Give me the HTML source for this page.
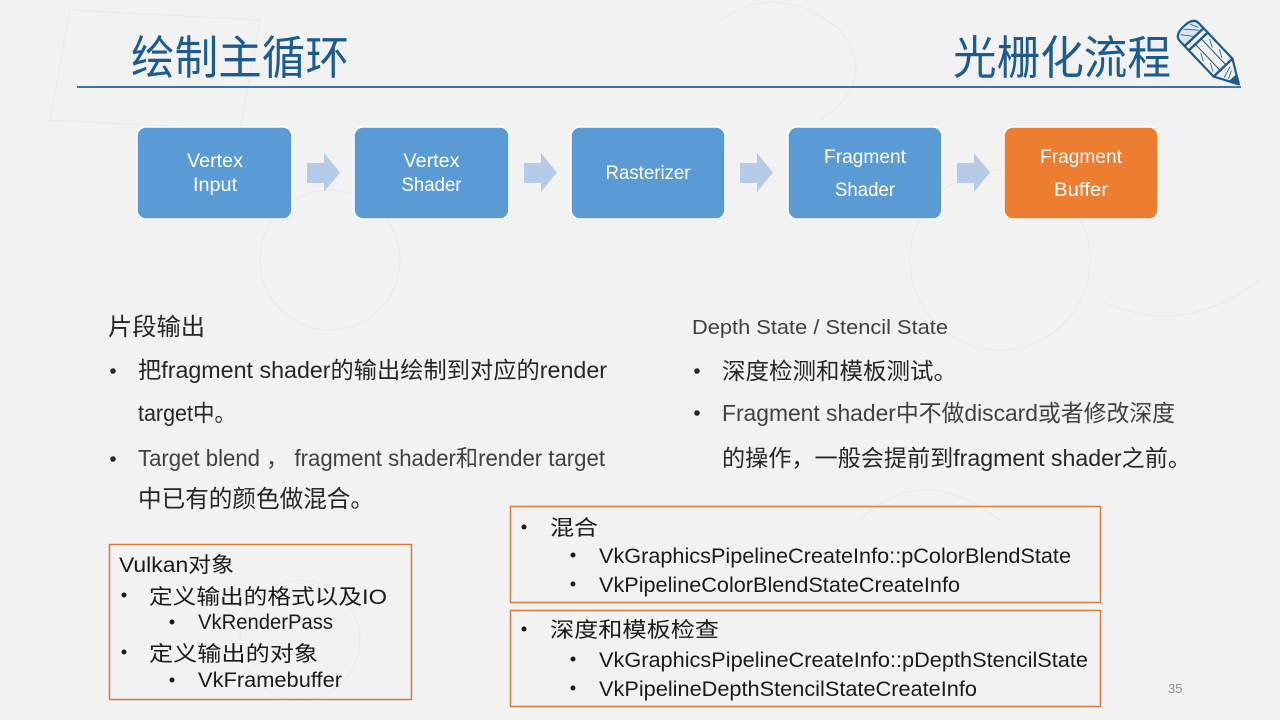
<!DOCTYPE html>
<html><head><meta charset="utf-8"><style>
html,body{margin:0;padding:0;background:#f2f2f2;}
svg{display:block;}
text{font-family:"Liberation Sans","Noto Sans CJK SC",sans-serif;}
</style></head><body>
<svg width="1280" height="720" viewBox="0 0 1280 720" xmlns="http://www.w3.org/2000/svg">
<rect width="1280" height="720" fill="#f2f2f2"/>
<!-- faint doodles -->
<g fill="none" stroke="#ebebeb" stroke-width="1.2">
<path d="M70 10 L260 20 L240 130 L50 120 Z"/>
<circle cx="330" cy="260" r="70"/>
<path d="M720 20 q60 -40 120 10 q40 50 -20 90"/>
<circle cx="1000" cy="260" r="90"/>
<path d="M1100 300 q80 40 160 -20"/>
<circle cx="300" cy="640" r="60"/>
<path d="M860 520 q60 -60 140 0"/>
</g>
<!-- titles -->
<text x="131" y="74" font-size="46" fill="#1c5b8f" textLength="218" lengthAdjust="spacingAndGlyphs">绘制主循环</text>
<text x="953" y="74" font-size="46" fill="#1c5b8f" textLength="218" lengthAdjust="spacingAndGlyphs">光栅化流程</text>
<line x1="77" y1="87" x2="1241" y2="87" stroke="#3b76a8" stroke-width="2"/>
<!-- pencil -->
<g transform="translate(1212,56) rotate(46.5)" fill="none" stroke="#1f5a8c" stroke-width="2.2" stroke-linejoin="round">
<path d="M-26 -13 L-33 -13 Q-41 -13 -41 0 Q-41 13 -33 13 L-26 13 Z" fill="#dbe5ee"/>
<rect x="-26" y="-13" width="6" height="26"/>
<rect x="-20" y="-13" width="36" height="26"/>
<line x1="-20" y1="-4" x2="16" y2="-4" stroke-width="1"/>
<line x1="-20" y1="4" x2="16" y2="4" stroke-width="1"/>
<path d="M16 -13 L39 0 L16 13 Z"/>
<path d="M31 -4.5 L39 0 L31 4.5 Z" fill="#1f5a8c"/>
<g stroke-width="0.8">
<line x1="-38" y1="-6" x2="-30" y2="-10"/><line x1="-39" y1="2" x2="-28" y2="-8"/><line x1="-37" y1="8" x2="-27" y2="0"/>
<line x1="-14" y1="-10" x2="-6" y2="-6"/><line x1="0" y1="-10" x2="8" y2="-6"/><line x1="-10" y1="6" x2="-2" y2="10"/><line x1="4" y1="6" x2="12" y2="10"/>
<line x1="20" y1="-6" x2="24" y2="6"/><line x1="24" y1="-4" x2="28" y2="4"/>
</g>
</g>
<!-- pipeline boxes -->
<g stroke="#ffffff" stroke-width="1.5">
<rect x="137" y="127" width="155" height="92" rx="9" fill="#5b9bd5"/>
<rect x="354" y="127" width="155" height="92" rx="9" fill="#5b9bd5"/>
<rect x="571" y="127" width="154" height="92" rx="9" fill="#5b9bd5"/>
<rect x="788" y="127" width="154" height="92" rx="9" fill="#5b9bd5"/>
<rect x="1004" y="127" width="154" height="92" rx="9" fill="#ed7d31"/>
</g>
<g fill="#b6cbe8">
<path d="M307 163 H324 V153 L340 172.5 L324 192 V183 H307 Z"/>
<path d="M524 163 H541 V153 L557 172.5 L541 192 V183 H524 Z"/>
<path d="M740 163 H757 V153 L773 172.5 L757 192 V183 H740 Z"/>
<path d="M957 163 H974 V153 L990 172.5 L974 192 V183 H957 Z"/>
</g>
<g fill="#ffffff" font-size="19" text-anchor="middle">
<text x="215" y="167" textLength="56" lengthAdjust="spacingAndGlyphs">Vertex</text>
<text x="215" y="191" textLength="44" lengthAdjust="spacingAndGlyphs">Input</text>
<text x="431.5" y="167" textLength="56" lengthAdjust="spacingAndGlyphs">Vertex</text>
<text x="431.5" y="191" textLength="60" lengthAdjust="spacingAndGlyphs">Shader</text>
<text x="648" y="179" textLength="85" lengthAdjust="spacingAndGlyphs">Rasterizer</text>
<text x="865" y="163" textLength="82" lengthAdjust="spacingAndGlyphs">Fragment</text>
<text x="865" y="196" textLength="60" lengthAdjust="spacingAndGlyphs">Shader</text>
<text x="1081" y="163" textLength="82" lengthAdjust="spacingAndGlyphs">Fragment</text>
<text x="1081" y="196" textLength="54" lengthAdjust="spacingAndGlyphs">Buffer</text>
</g>
<!-- left column -->
<g font-size="23" fill="#262626">
<text x="108" y="335" font-size="24" textLength="97" lengthAdjust="spacingAndGlyphs">片段输出</text>
<circle cx="113" cy="371" r="2.8"/>
<text x="138" y="378" textLength="469" lengthAdjust="spacingAndGlyphs">把fragment shader的输出绘制到对应的render</text>
<text x="138" y="421" textLength="98" lengthAdjust="spacingAndGlyphs">target中。</text>
<circle cx="113" cy="459" r="2.8"/>
<text x="138" y="466" fill="#404040" textLength="467" lengthAdjust="spacingAndGlyphs">Target blend ， fragment shader和render target</text>
<text x="138" y="507" font-size="24" textLength="236" lengthAdjust="spacingAndGlyphs">中已有的颜色做混合。</text>
</g>
<!-- right column -->
<g font-size="23" fill="#262626">
<text x="692" y="334" font-size="20" fill="#404040" textLength="256" lengthAdjust="spacingAndGlyphs">Depth State / Stencil State</text>
<circle cx="697" cy="371" r="2.8"/>
<text x="722" y="379" textLength="235" lengthAdjust="spacingAndGlyphs">深度检测和模板测试。</text>
<circle cx="697" cy="413" r="2.8"/>
<text x="722" y="421" fill="#404040" textLength="453" lengthAdjust="spacingAndGlyphs">Fragment shader中不做discard或者修改深度</text>
<text x="722" y="466" textLength="469" lengthAdjust="spacingAndGlyphs">的操作，一般会提前到fragment shader之前。</text>
</g>
<!-- vulkan box -->
<rect x="109.5" y="544.5" width="302" height="155" fill="none" stroke="#d57b3e" stroke-width="1.5"/>
<g font-size="21" fill="#1a1a1a">
<text x="119" y="572" textLength="115" lengthAdjust="spacingAndGlyphs">Vulkan对象</text>
<circle cx="124" cy="595" r="2.5"/>
<text x="149" y="604" textLength="238" lengthAdjust="spacingAndGlyphs">定义输出的格式以及IO</text>
<circle cx="172" cy="622" r="2.5"/>
<text x="198" y="629" textLength="135" lengthAdjust="spacingAndGlyphs">VkRenderPass</text>
<circle cx="124" cy="652" r="2.5"/>
<text x="149" y="661" textLength="169" lengthAdjust="spacingAndGlyphs">定义输出的对象</text>
<circle cx="172" cy="680" r="2.5"/>
<text x="198" y="687" textLength="144" lengthAdjust="spacingAndGlyphs">VkFramebuffer</text>
</g>
<!-- right boxes -->
<rect x="510.5" y="506.5" width="590" height="96" fill="none" stroke="#d57b3e" stroke-width="1.5"/>
<rect x="510.5" y="610.5" width="590" height="96" fill="none" stroke="#d57b3e" stroke-width="1.5"/>
<g font-size="21" fill="#1a1a1a">
<circle cx="524" cy="527" r="2.5"/>
<text x="550" y="535" textLength="48" lengthAdjust="spacingAndGlyphs">混合</text>
<circle cx="573" cy="555" r="2.5"/>
<text x="599" y="563" textLength="472" lengthAdjust="spacingAndGlyphs">VkGraphicsPipelineCreateInfo::pColorBlendState</text>
<circle cx="573" cy="584" r="2.5"/>
<text x="599" y="592" textLength="361" lengthAdjust="spacingAndGlyphs">VkPipelineColorBlendStateCreateInfo</text>
<circle cx="524" cy="629" r="2.5"/>
<text x="550" y="637" textLength="169" lengthAdjust="spacingAndGlyphs">深度和模板检查</text>
<circle cx="573" cy="659" r="2.5"/>
<text x="599" y="667" textLength="489" lengthAdjust="spacingAndGlyphs">VkGraphicsPipelineCreateInfo::pDepthStencilState</text>
<circle cx="573" cy="688" r="2.5"/>
<text x="599" y="696" textLength="378" lengthAdjust="spacingAndGlyphs">VkPipelineDepthStencilStateCreateInfo</text>
</g>
<text x="1168" y="693" font-size="13" fill="#8c8c8c">35</text>
</svg>
</body></html>
